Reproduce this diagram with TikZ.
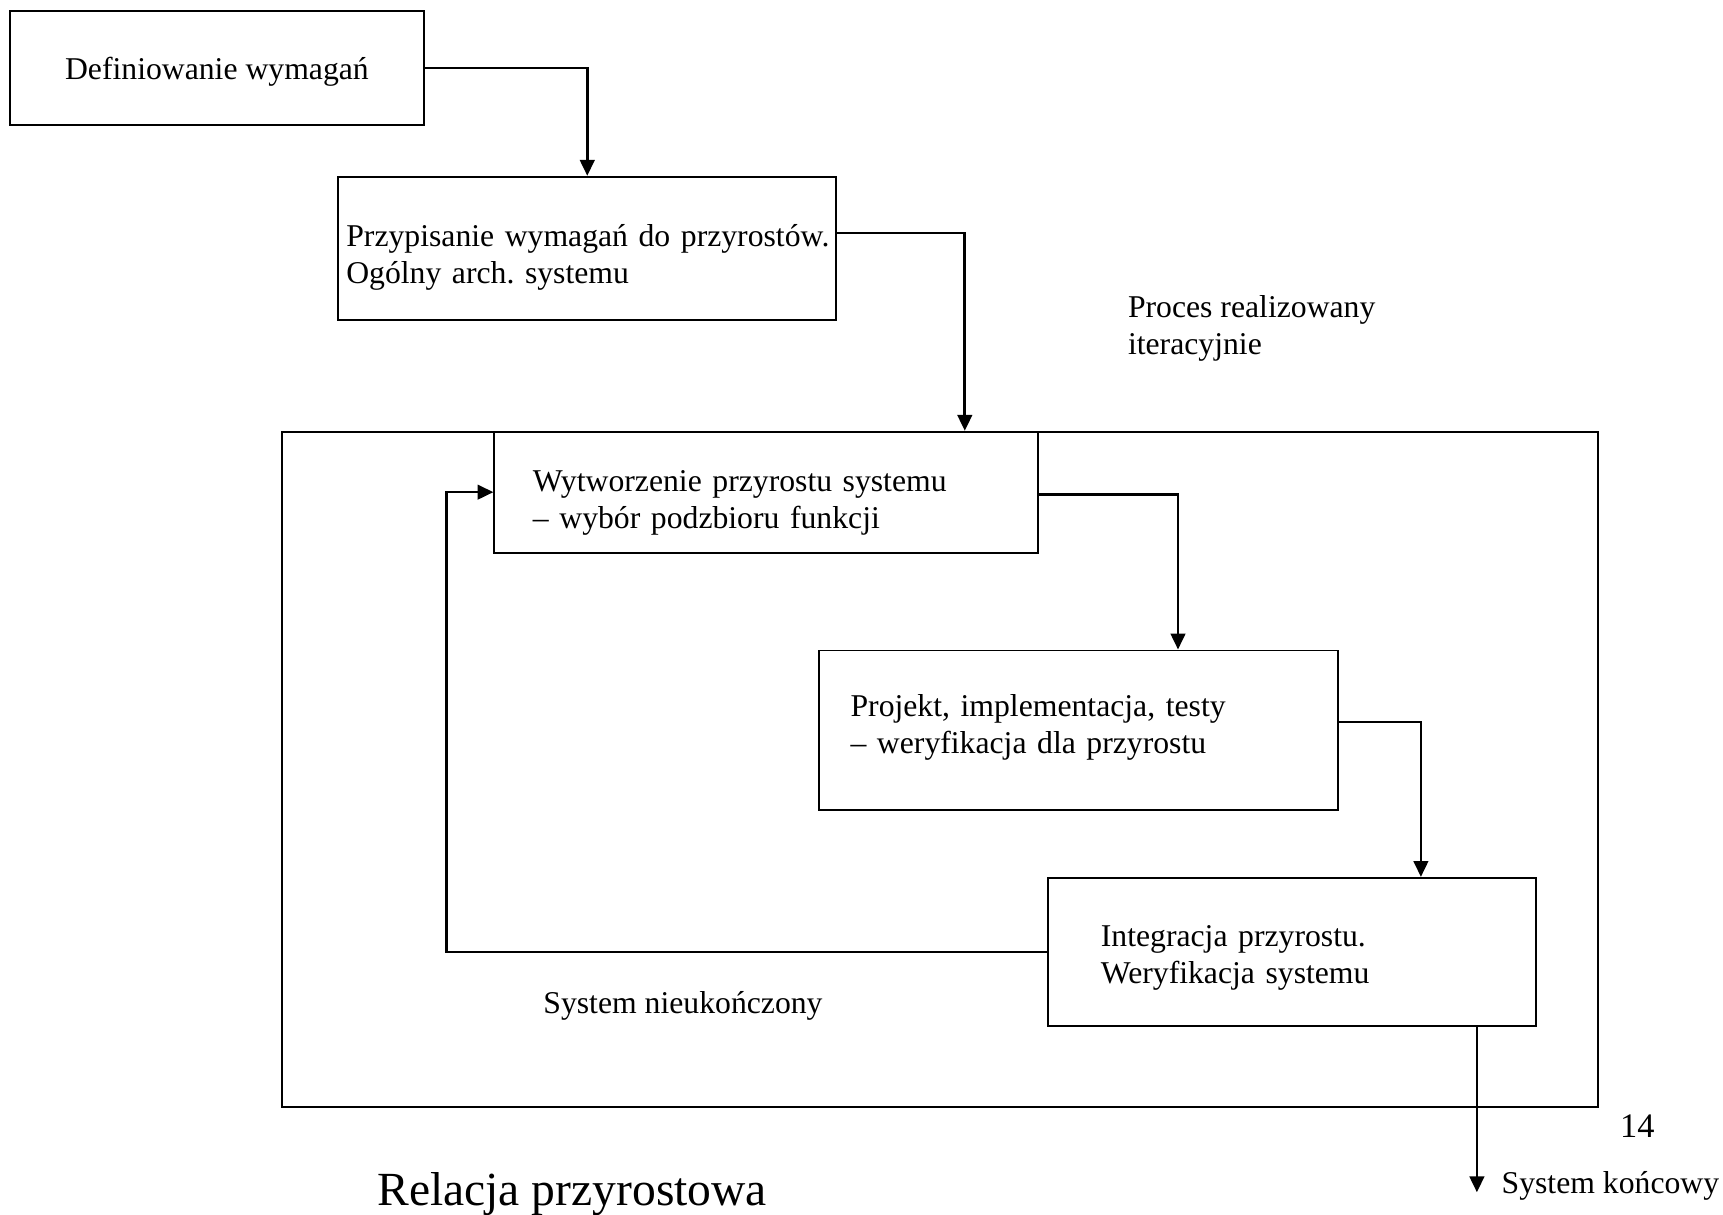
\documentclass[tikz,border=0pt]{standalone}
\usepackage{fontspec}
\setmainfont{Liberation Serif}
\usepackage{tikz}
\usetikzlibrary{arrows.meta}
\frenchspacing

\begin{document}
\begin{tikzpicture}[
        x=0.3785pt, y=-0.3785pt,
        krok/.style={draw, line width=0.75pt, anchor=north west, font=\fontsize{12}{14}\selectfont},
        lewy/.style={krok, align=left},
        strzalka/.style={-{Triangle[length=6pt,width=5.5pt]}, line width=1pt},
        opis/.style={anchor=west, align=left, inner sep=0pt, font=\fontsize{12}{14}\selectfont}
    ]
    \useasboundingbox (0,0) rectangle (1723,1215);

    % ramka procesu iteracyjnego
    \node[draw, line width=0.75pt, anchor=north west, minimum width=497.9pt, minimum height=255.4pt, inner sep=0pt] (petla) at (281.3,430.8) {};

    % kroki
    \node[krok, minimum width=156.8pt, minimum height=43.3pt, text height=11.6pt] (defin) at (8.8,9.9) {Definiowanie wymagań};
    \node[lewy, minimum width=188.4pt, minimum height=54.1pt, inner xsep=3pt, text width=182.4pt, text height=15.6pt] (przyp) at (337.4,175.8) {\mbox{Przypisanie wymagań do przyrostów.}\\Ogólny arch. systemu};
    \node[lewy, minimum width=205.9pt, minimum height=45.7pt, inner xsep=14.6pt, text width=176.7pt, text height=16.2pt] (wytw) at (493.4,430.8) {Wytworzenie przyrostu systemu\\– wybór podzbioru funkcji};
    \node[lewy, minimum width=196.7pt, minimum height=60.3pt, inner xsep=12.1pt, text width=172.5pt, text height=6.2pt] (proj) at (817.6,649.5) {Projekt, implementacja, testy\\– weryfikacja dla przyrostu};
    \node[lewy, minimum width=184.7pt, minimum height=56.2pt, inner xsep=19.9pt, text width=144.9pt, text height=12.4pt] (integ) at (1047.3,876.9) {Integracja przyrostu.\\Weryfikacja systemu};

    % punkty zalamania
    \coordinate (k2) at (964.8,233);
    \coordinate (k3) at (1178,494.5);
    \coordinate (k4) at (1420.9,722);
    \coordinate (k5) at (446.2,949.4);
    \coordinate (wyj) at (1476.9,1192.3);

    % opisy
    \node[opis] (proces) at (1127.5,328.6) {Proces realizowany\\iteracyjnie};
    \node[opis] (nieuk) at (542.9,1005.5) {System nieukończony};
    \node[opis] (konc) at (1501.1,1185.7) {System końcowy};
    \node[font=\fontsize{13}{15}\selectfont] (strona) at (1637.4,1126.4) {14};
    \node[anchor=west, inner sep=0pt, font=\fontsize{18}{21}\selectfont] (tytul) at (376.9,1194.5) {Relacja przyrostowa};

    % polaczenia
    \draw[strzalka] (defin) -| (przyp);
    \draw[strzalka] (przyp.east |- k2) -| (k2 |- petla.north);
    \draw[strzalka] (wytw.east |- k3) -| (k3 |- proj.north);
    \draw[strzalka] (proj.east |- k4) -| (k4 |- integ.north);
    \draw[strzalka] (integ.west) -- (integ.west -| k5) |- (wytw.west);
    \draw[strzalka] (integ.south -| wyj) -- (wyj);

\end{tikzpicture}
\end{document}
